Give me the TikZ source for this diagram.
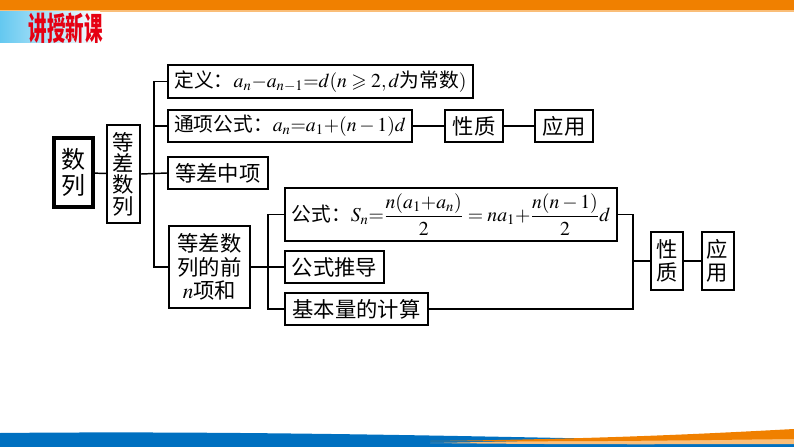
\documentclass[tikz,border=0pt]{standalone}
\usepackage{mathptmx}
\usepackage{amssymb}
\usepackage[no-math]{fontspec}
\setmainfont{Noto Sans CJK SC}
\definecolor{barorange}{RGB}{240,128,0}
\definecolor{lightorange}{RGB}{250,190,120}
\definecolor{barblue}{RGB}{0,112,192}
\definecolor{skyblue}{RGB}{100,200,240}
\definecolor{titlered}{RGB}{230,0,18}
\begin{document}
\begin{tikzpicture}[x=0.75pt, y=-0.75pt,
	box/.style={draw, line width=1.5pt, inner sep=0pt, align=center, font=\fontsize{16}{17.5}\selectfont},
	small/.style={box, font=\fontsize{14.8}{16}\selectfont},
	link/.style={line width=1.1pt}]
	\useasboundingbox (0,0) rectangle (794,447);
	\fill[barorange] (0,0) rectangle (794,10);
	\fill[lightorange] (0,10) rectangle (794,11.5);
	\shade[left color=skyblue, right color=white] (0,11.5) rectangle (100,42);
	\node[text=titlered, font=\fontsize{24}{24}\selectfont\bfseries, xscale=0.58, transform shape] (T) at (66,28) {讲授新课};
	\fill[barblue] (0,433) .. controls (300,430) and (600,440) .. (794,442) -- (794,447) -- (0,447) -- cycle;
	\fill[lightorange] (430,443) .. controls (600,440) and (700,436) .. (794,432) -- (794,444) .. controls (700,444) and (600,445) .. (430,443) -- cycle;
	\fill[barorange] (430,441) .. controls (600,439) and (700,434) .. (794,429) -- (794,439) .. controls (700,440) and (600,442) .. (430,441) -- cycle;
	\node[box, line width=3pt, minimum width=29pt, minimum height=52pt, font=\fontsize{18}{19}\selectfont] (SL) at (73.5,172.5) {数\\列};
	\node[box, minimum width=25pt, minimum height=73.5pt, font=\fontsize{16}{16}\selectfont] (DC) at (123.5,174) {等\\差\\数\\列};
	\node[small, minimum width=229pt, minimum height=25pt] (DY) at (320.5,81.5) {定义：$a_n{-}a_{n-1}{=}d(n\geqslant2,d$为常数$)$};
	\node[small, minimum width=183pt, minimum height=24pt] (TX) at (290,126) {通项公式：$a_n{=}a_1{+}(n-1)d$};
	\node[box, minimum width=43.5pt, minimum height=24pt] (XZ1) at (474,126) {性质};
	\node[box, minimum width=43.5pt, minimum height=24pt] (YY1) at (564,126) {应用};
	\node[box, minimum width=75pt, minimum height=24pt] (ZX) at (218,173) {等差中项};
	\node[box, minimum width=61pt, minimum height=61.5pt] (QN) at (209.5,267) {等差数\\列的前\\$n$项和};
	\node[small, minimum width=249pt, minimum height=40pt] (GS) at (451,214.5) {公式：$S_n{=}\displaystyle\frac{n(a_1{+}a_n)}{2}=na_1{+}\frac{n(n-1)}{2}d$};
	\node[box, minimum width=74pt, minimum height=24pt] (TD) at (334.5,267) {公式推导};
	\node[box, minimum width=107pt, minimum height=24pt] (JB) at (356.5,309) {基本量的计算};
	\node[box, minimum width=24pt, minimum height=43.5pt] (XZ2) at (667,261) {性\\质};
	\node[box, minimum width=24pt, minimum height=43.5pt] (YY2) at (717.5,261) {应\\用};
	\coordinate (t) at (154,0);
	\coordinate (b) at (268,0);
	\coordinate (r) at (633,0);
	\draw[link] (SL) -- (DC);
	\draw[link] (DC.east) -- (ZX.west);
	\draw[link] (DY.west) -| (QN.west -| t) -- (QN.west);
	\draw[link] (TX.west) -- (TX.west -| t);
	\draw[link] (TX) -- (XZ1);
	\draw[link] (XZ1) -- (YY1);
	\draw[link] (GS.west) -| (JB.west -| b) -- (JB.west);
	\draw[link] (QN.east) -- (TD.west);
	\draw[link] (GS.east) -| (JB.east -| r) -- (JB.east);
	\draw[link] (XZ2.west) -- (XZ2.west -| r);
	\draw[link] (XZ2) -- (YY2);
\end{tikzpicture}
\end{document}
